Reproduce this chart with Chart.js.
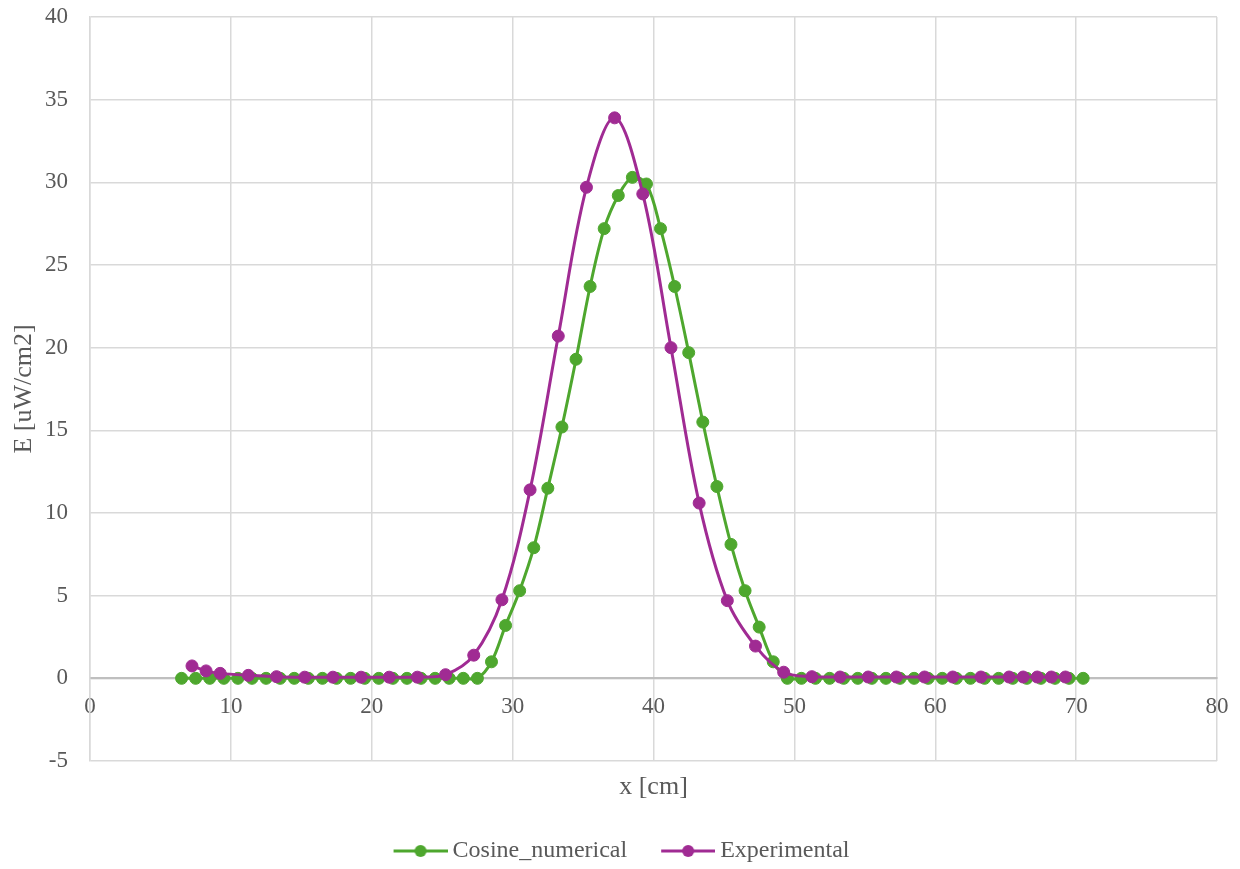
<!DOCTYPE html>
<html>
<head>
<meta charset="utf-8">
<script src="https://cdn.jsdelivr.net/npm/chart.js@4/dist/chart.umd.min.js"></script>
<style>
    html, body { margin: 0; padding: 0; background: #ffffff; }
    #chart { display: block; }
</style>
</head>
<body>
<canvas id="chart" width="1240" height="869"></canvas>
<script>
// values
const cosineX = [6.5, 7.5, 8.5, 9.5, 10.5, 11.5, 12.5, 13.5, 14.5, 15.5, 16.5, 17.5, 18.5, 19.5, 20.5, 21.5, 22.5, 23.5, 24.5, 25.5, 26.5, 27.5,
    28.5, 29.5, 30.5, 31.5, 32.5, 33.5, 34.5, 35.5, 36.5, 37.5, 38.5, 39.5, 40.5, 41.5, 42.5, 43.5, 44.5, 45.5, 46.5, 47.5, 48.5,
    49.5, 50.5, 51.5, 52.5, 53.5, 54.5, 55.5, 56.5, 57.5, 58.5, 59.5, 60.5, 61.5, 62.5, 63.5, 64.5, 65.5, 66.5, 67.5, 68.5, 69.5, 70.5];
const cosineE = [0, 0, 0, 0, 0, 0, 0, 0, 0, 0, 0, 0, 0, 0, 0, 0, 0, 0, 0, 0, 0, 0,
    1.0, 3.2, 5.3, 7.9, 11.5, 15.2, 19.3, 23.7, 27.2, 29.2, 30.3, 29.9, 27.2, 23.7, 19.7, 15.5, 11.6, 8.1, 5.3, 3.1, 1.0,
    0, 0, 0, 0, 0, 0, 0, 0, 0, 0, 0, 0, 0, 0, 0, 0, 0, 0, 0, 0, 0, 0];

const expX = [7.24, 8.24, 9.24, 11.24, 13.24, 15.24, 17.24, 19.24, 21.24, 23.24, 25.24, 27.24, 29.24, 31.24, 33.24, 35.24,
    37.24, 39.24, 41.24, 43.24, 45.24, 47.24, 49.24, 51.24, 53.24, 55.24, 57.24, 59.24, 61.24, 63.24, 65.24, 66.24, 67.24, 68.24, 69.24];
const expE = [0.75, 0.45, 0.3, 0.18, 0.1, 0.07, 0.07, 0.07, 0.07, 0.07, 0.22, 1.4, 4.75, 11.4, 20.7, 29.7,
    33.9, 29.3, 20.0, 10.6, 4.7, 1.95, 0.37, 0.1, 0.08, 0.08, 0.08, 0.08, 0.08, 0.08, 0.08, 0.08, 0.08, 0.08, 0.08];

const xTicks = [0, 10, 20, 30, 40, 50, 60, 70, 80];
const yTicks = [-5, 0, 5, 10, 15, 20, 25, 30, 35, 40];

const seriesNames = ['Cosine_numerical', 'Experimental'];
const seriesColors = ['#4ea72e', '#a02b93'];

const fontFamily = '"Liberation Serif", "Times New Roman", serif';
const textColor = '#595959';
const gridColor = '#d9d9d9';

function toPoints(xs, ys) {
    return xs.map((x, i) => ({ x: x, y: ys[i] }));
}

// legend marker: short line with a dot, drawn with empty space on the left
function legendMarker(color) {
    const c = document.createElement('canvas');
    c.width = 87;
    c.height = 16;
    const g = c.getContext('2d');
    g.strokeStyle = color;
    g.lineWidth = 3;
    g.beginPath();
    g.moveTo(33, 8);
    g.lineTo(87, 8);
    g.stroke();
    g.fillStyle = color;
    g.beginPath();
    g.arc(60, 8, 6, 0, Math.PI * 2);
    g.fill();
    return c;
}

const markers = seriesColors.map(legendMarker);

const ctx = document.getElementById('chart').getContext('2d');
const myChart = new Chart(ctx, {
    type: 'line',
    data: {
        datasets: [{
            label: seriesNames[0],
            data: toPoints(cosineX, cosineE),
            borderColor: seriesColors[0],
            backgroundColor: seriesColors[0],
            pointBackgroundColor: seriesColors[0],
            pointBorderColor: seriesColors[0],
            borderWidth: 3,
            pointRadius: 6,
            pointBorderWidth: 1,
            tension: 0.35,
            fill: false,
            order: 2
        }, {
            label: seriesNames[1],
            data: toPoints(expX, expE),
            borderColor: seriesColors[1],
            backgroundColor: seriesColors[1],
            pointBackgroundColor: seriesColors[1],
            pointBorderColor: seriesColors[1],
            borderWidth: 3,
            pointRadius: 6,
            pointBorderWidth: 1,
            tension: 0.35,
            fill: false,
            order: 1
        }]
    },
    options: {
        responsive: false,
        animation: false,
        layout: {
            padding: { top: 17, right: 23, bottom: -4, left: 0 }
        },
        plugins: {
            tooltip: { enabled: false },
            legend: {
                position: 'bottom',
                labels: {
                    usePointStyle: true,
                    pointStyleWidth: 73,
                    padding: 8,
                    color: textColor,
                    font: { family: fontFamily, size: 24 },
                    generateLabels: function(chart) {
                        return seriesNames.map((name, i) => ({
                            text: name,
                            datasetIndex: i,
                            pointStyle: markers[i],
                            fillStyle: seriesColors[i],
                            strokeStyle: seriesColors[i],
                            lineWidth: 0,
                            hidden: false,
                            fontColor: textColor
                        }));
                    }
                }
            }
        },
        scales: {
            x: {
                type: 'linear',
                position: { y: 0 },
                min: 0,
                max: 80,
                afterBuildTicks: function(scale) {
                    scale.ticks = xTicks.map(v => ({ value: v }));
                },
                afterFit: function(scale) {
                    scale.height = 0;
                },
                grid: {
                    color: gridColor,
                    lineWidth: 1.5,
                    drawTicks: true,
                    tickLength: 15,
                    tickColor: 'rgba(0,0,0,0)'
                },
                border: {
                    color: '#bfbfbf',
                    width: 2
                },
                ticks: {
                    color: textColor,
                    padding: 0,
                    maxRotation: 0,
                    font: { family: fontFamily, size: 23 }
                }
            },
            x2: {
                type: 'linear',
                position: 'bottom',
                min: 0,
                max: 80,
                grid: { display: false, drawTicks: false },
                border: { display: false },
                ticks: { display: false },
                title: {
                    display: true,
                    text: 'x [cm]',
                    color: textColor,
                    font: { family: fontFamily, size: 26 },
                    padding: { top: 10.4, bottom: 28.4 }
                }
            },
            y: {
                type: 'linear',
                position: 'left',
                min: -5,
                max: 40,
                afterBuildTicks: function(scale) {
                    scale.ticks = yTicks.map(v => ({ value: v }));
                },
                afterFit: function(scale) {
                    scale.width = 90;
                },
                grid: {
                    color: gridColor,
                    lineWidth: 1.5,
                    drawTicks: true,
                    tickLength: 22,
                    tickColor: 'rgba(0,0,0,0)'
                },
                border: {
                    color: gridColor,
                    width: 1.5
                },
                ticks: {
                    color: textColor,
                    padding: 0,
                    font: { family: fontFamily, size: 23 }
                },
                title: {
                    display: true,
                    text: 'E [uW/cm2]',
                    color: textColor,
                    font: { family: fontFamily, size: 26 },
                    padding: { top: 8.4, bottom: 0 }
                }
            }
        }
    }
});
</script>
</body>
</html>
